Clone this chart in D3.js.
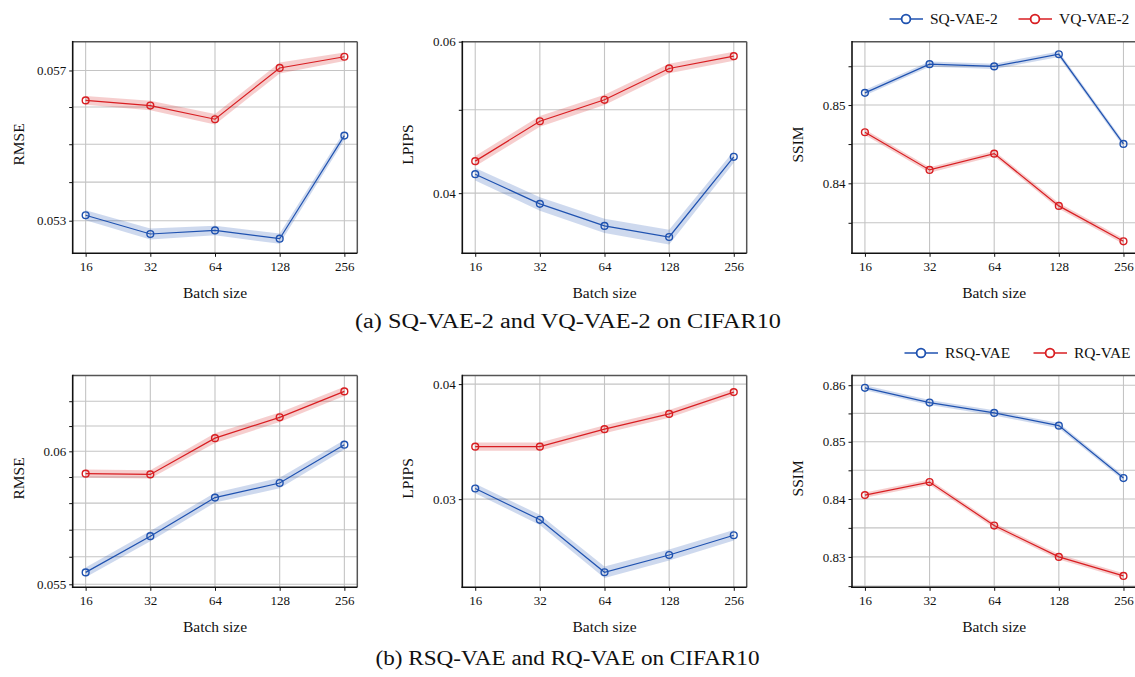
<!DOCTYPE html>
<html>
<head>
<meta charset="utf-8">
<script src="https://cdn.jsdelivr.net/npm/d3@7"></script>
<style>
  html, body { margin: 0; padding: 0; background: #fff; }
  svg { display: block; }
  svg text { font-family: "Liberation Serif", Tinos, "Times New Roman", "Nimbus Roman", "DejaVu Serif", serif; fill: #111; }
</style>
</head>
<body>
<svg id="chart" width="1135" height="677"></svg>
<script>
// ---- data ----
const batchSizes = [16, 32, 64, 128, 256];

// (a) SQ-VAE-2 vs VQ-VAE-2
const rmseSQ2  = [0.05314, 0.05266, 0.05275, 0.05254, 0.05523];
const rmseVQ2  = [0.05618, 0.05604, 0.05567, 0.05707, 0.05738];
const rmseSQ2Err = [0.00013, 0.00014, 0.00012, 0.00013, 0.00012];
const rmseVQ2Err = [0.00012, 0.00013, 0.00014, 0.00015, 0.00012];

const lpipsSQ2 = [0.04208, 0.03887, 0.03664, 0.03557, 0.04409];
const lpipsVQ2 = [0.04358, 0.04849, 0.05136, 0.05585, 0.05772];
const lpipsSQ2Err = [0.0007, 0.0007, 0.0007, 0.0007, 0.0007];
const lpipsVQ2Err = [0.0006, 0.0007, 0.0007, 0.0007, 0.0007];

const ssimSQ2  = [0.85157, 0.85527, 0.85498, 0.85655, 0.84502];
const ssimVQ2  = [0.84651, 0.84170, 0.84378, 0.83714, 0.83267];
const ssimSQ2Err = [0.00035, 0.00035, 0.00035, 0.00035, 0.00035];
const ssimVQ2Err = [0.00035, 0.00035, 0.00035, 0.00035, 0.00035];

// (b) RSQ-VAE vs RQ-VAE
const rmseRSQ  = [0.05543, 0.05676, 0.05821, 0.05877, 0.06026];
const rmseRQ   = [0.05913, 0.05910, 0.06052, 0.06135, 0.06240];
const rmseRSQErr = [0.00018, 0.00019, 0.00019, 0.00020, 0.00019];
const rmseRQErr  = [0.00016, 0.00016, 0.00019, 0.00019, 0.00019];

const lpipsRSQ = [0.03081, 0.02849, 0.02499, 0.02609, 0.02741];
const lpipsRQ  = [0.03421, 0.03421, 0.03574, 0.03713, 0.03921];
const lpipsRSQErr = [0.00036, 0.00036, 0.00036, 0.00036, 0.00036];
const lpipsRQErr  = [0.00036, 0.00036, 0.00036, 0.00036, 0.00036];

const ssimRSQ  = [0.85954, 0.85692, 0.85509, 0.85284, 0.84365];
const ssimRQ   = [0.84068, 0.84295, 0.83540, 0.83000, 0.82674];
const ssimRSQErr = [0.00045, 0.00045, 0.00045, 0.00045, 0.00045];
const ssimRQErr  = [0.00045, 0.00045, 0.00045, 0.00045, 0.00045];

// axis limits, grid values and labelled ticks
const rmseADomain  = [0.05217, 0.05780];
const rmseAGrid    = [0.053, 0.054, 0.055, 0.056, 0.057];
const rmseALabels  = [0.053, 0.057];
const lpipsADomain = [0.03405, 0.0600];
const lpipsAGrid   = [0.04, 0.05, 0.06];
const lpipsALabels = [0.04, 0.06];
const ssimADomain  = [0.83116, 0.85818];
const ssimAGrid    = [0.835, 0.84, 0.845, 0.85, 0.855];
const ssimALabels  = [0.84, 0.85];

const rmseBDomain  = [0.054892, 0.063052];
const rmseBGrid    = [0.055, 0.056, 0.057, 0.058, 0.059, 0.06, 0.061, 0.062];
const rmseBLabels  = [0.055, 0.06];
const lpipsBDomain = [0.024066, 0.040870];
const lpipsBGrid   = [0.03, 0.04];
const lpipsBLabels = [0.03, 0.04];
const ssimBDomain  = [0.82480, 0.861729];
const ssimBGrid    = [0.825, 0.83, 0.835, 0.84, 0.845, 0.85, 0.855, 0.86];
const ssimBLabels  = [0.83, 0.84, 0.85, 0.86];

const metricNames = ["RMSE", "LPIPS", "SSIM"];
const legendA = ["SQ-VAE-2", "VQ-VAE-2"];
const legendB = ["RSQ-VAE", "RQ-VAE"];
const captionA = "(a) SQ-VAE-2 and VQ-VAE-2 on CIFAR10";
const captionB = "(b) RSQ-VAE and RQ-VAE on CIFAR10";

// ---- styling / layout ----
const SERIF = '"Liberation Serif", Tinos, "Times New Roman", "Nimbus Roman", "DejaVu Serif", serif';
const BLUE = "#1f52b0", RED = "#d81e22";
const colX = [[72.7, 357.3], [462.3, 746.7], [852, 1136.4]];
const rowY = [[41.7, 253.3], [375.5, 587.3]];

const svg = d3.select("#chart").attr("font-family", SERIF);

function panel(col, row, name, domain, grid, labels, series) {
  const [x0, x1] = colX[col], [y0, y1] = rowY[row];
  const x = d3.scaleLog().base(2)
    .domain([16 / Math.pow(2, 0.2), 256 * Math.pow(2, 0.2)])
    .range([x0, x1]);
  const y = d3.scaleLog().domain(domain).range([y1, y0]);
  const g = svg.append("g");

  // grid
  g.append("g").selectAll("line").data(grid).join("line")
    .attr("x1", x0).attr("x2", x1)
    .attr("y1", d => y(d)).attr("y2", d => y(d))
    .attr("stroke", "#c4c4c4").attr("stroke-width", 1.1);
  g.append("g").selectAll("line").data(batchSizes).join("line")
    .attr("x1", d => x(d)).attr("x2", d => x(d))
    .attr("y1", y0).attr("y2", y1)
    .attr("stroke", "#c4c4c4").attr("stroke-width", 1.1);

  // axes (ticks outward)
  const yAxis = d3.axisLeft(y).tickValues(grid).tickSize(3.5).tickPadding(3)
    .tickFormat(d => labels.some(l => Math.abs(l - d) < 1e-9) ? String(d) : "");
  const ya = g.append("g").attr("transform", `translate(${x0},0)`).call(yAxis)
    .attr("font-family", SERIF).attr("font-size", 13);
  ya.select(".domain").remove();
  ya.selectAll(".tick line").attr("stroke", "#111").attr("stroke-width", 1);
  ya.selectAll("text").attr("fill", "#111");

  const xAxis = d3.axisBottom(x).tickValues(batchSizes).tickSize(3.5).tickPadding(5)
    .tickFormat(d => String(d));
  const xa = g.append("g").attr("transform", `translate(0,${y1})`).call(xAxis)
    .attr("font-family", SERIF).attr("font-size", 13);
  xa.select(".domain").remove();
  xa.selectAll(".tick line").attr("stroke", "#111").attr("stroke-width", 1);
  xa.selectAll("text").attr("fill", "#111");

  // bands, lines, markers
  series.forEach(s => {
    const pts = batchSizes.map((b, i) => ({ b, v: s.values[i], e: s.err[i] }));
    const area = d3.area().x(d => x(d.b)).y0(d => y(d.v - d.e)).y1(d => y(d.v + d.e));
    g.append("path").datum(pts).attr("d", area)
      .attr("fill", s.color).attr("fill-opacity", 0.22);
    const line = d3.line().x(d => x(d.b)).y(d => y(d.v));
    g.append("path").datum(pts).attr("d", line)
      .attr("fill", "none").attr("stroke", s.color).attr("stroke-width", 1.2);
    g.append("g").selectAll("circle").data(pts).join("circle")
      .attr("cx", d => x(d.b)).attr("cy", d => y(d.v)).attr("r", 3.4)
      .attr("fill", "none").attr("stroke", s.color).attr("stroke-width", 1.4);
  });

  // frame: dark left/bottom, grey top/right
  g.append("line").attr("x1", x0).attr("x2", x1).attr("y1", y0).attr("y2", y0)
    .attr("stroke", "#555").attr("stroke-width", 1.5);
  g.append("line").attr("x1", x1).attr("x2", x1).attr("y1", y0).attr("y2", y1)
    .attr("stroke", "#555").attr("stroke-width", 1.5);
  g.append("line").attr("x1", x0).attr("x2", x0).attr("y1", y0 - 0.75).attr("y2", y1 + 0.75)
    .attr("stroke", "#111").attr("stroke-width", 1.6);
  g.append("line").attr("x1", x0 - 0.75).attr("x2", x1).attr("y1", y1).attr("y2", y1)
    .attr("stroke", "#111").attr("stroke-width", 1.6);

  // axis titles
  g.append("text").attr("x", (x0 + x1) / 2).attr("y", y1 + 44.5)
    .attr("text-anchor", "middle").attr("font-size", 15.5).text("Batch size");
  const cy = (y0 + y1) / 2 - 3;
  g.append("text").attr("transform", `translate(${x0 - 49},${cy}) rotate(-90)`)
    .attr("text-anchor", "middle").attr("font-size", 15.5).text(name);
}

function legend(items, y, specs) {
  items.forEach((label, i) => {
    const s = specs[i];
    const g = svg.append("g");
    g.append("line").attr("x1", s.x).attr("x2", s.x + 33.5).attr("y1", y).attr("y2", y)
      .attr("stroke", s.color).attr("stroke-width", 1.3);
    g.append("circle").attr("cx", s.x + 16.5).attr("cy", y).attr("r", 4.4)
      .attr("fill", "#fff").attr("stroke", s.color).attr("stroke-width", 1.8);
    g.append("text").attr("x", s.x + 40.5).attr("y", y + 5.2)
      .attr("font-size", 15.5).text(label);
  });
}

// row (a)
panel(0, 0, metricNames[0], rmseADomain, rmseAGrid, rmseALabels, [
  { values: rmseSQ2, err: rmseSQ2Err, color: BLUE },
  { values: rmseVQ2, err: rmseVQ2Err, color: RED }]);
panel(1, 0, metricNames[1], lpipsADomain, lpipsAGrid, lpipsALabels, [
  { values: lpipsSQ2, err: lpipsSQ2Err, color: BLUE },
  { values: lpipsVQ2, err: lpipsVQ2Err, color: RED }]);
panel(2, 0, metricNames[2], ssimADomain, ssimAGrid, ssimALabels, [
  { values: ssimSQ2, err: ssimSQ2Err, color: BLUE },
  { values: ssimVQ2, err: ssimVQ2Err, color: RED }]);
legend(legendA, 19, [{ x: 889.5, color: BLUE }, { x: 1018.5, color: RED }]);

// row (b)
panel(0, 1, metricNames[0], rmseBDomain, rmseBGrid, rmseBLabels, [
  { values: rmseRSQ, err: rmseRSQErr, color: BLUE },
  { values: rmseRQ, err: rmseRQErr, color: RED }]);
panel(1, 1, metricNames[1], lpipsBDomain, lpipsBGrid, lpipsBLabels, [
  { values: lpipsRSQ, err: lpipsRSQErr, color: BLUE },
  { values: lpipsRQ, err: lpipsRQErr, color: RED }]);
panel(2, 1, metricNames[2], ssimBDomain, ssimBGrid, ssimBLabels, [
  { values: ssimRSQ, err: ssimRSQErr, color: BLUE },
  { values: ssimRQ, err: ssimRQErr, color: RED }]);
legend(legendB, 353, [{ x: 904.5, color: BLUE }, { x: 1033.5, color: RED }]);

// captions
svg.append("text").attr("x", 568).attr("y", 328).attr("text-anchor", "middle")
  .attr("font-size", 20).attr("textLength", 426).attr("lengthAdjust", "spacingAndGlyphs")
  .text(captionA);
svg.append("text").attr("x", 567.5).attr("y", 665).attr("text-anchor", "middle")
  .attr("font-size", 20).attr("textLength", 384).attr("lengthAdjust", "spacingAndGlyphs")
  .text(captionB);
</script>
</body>
</html>
